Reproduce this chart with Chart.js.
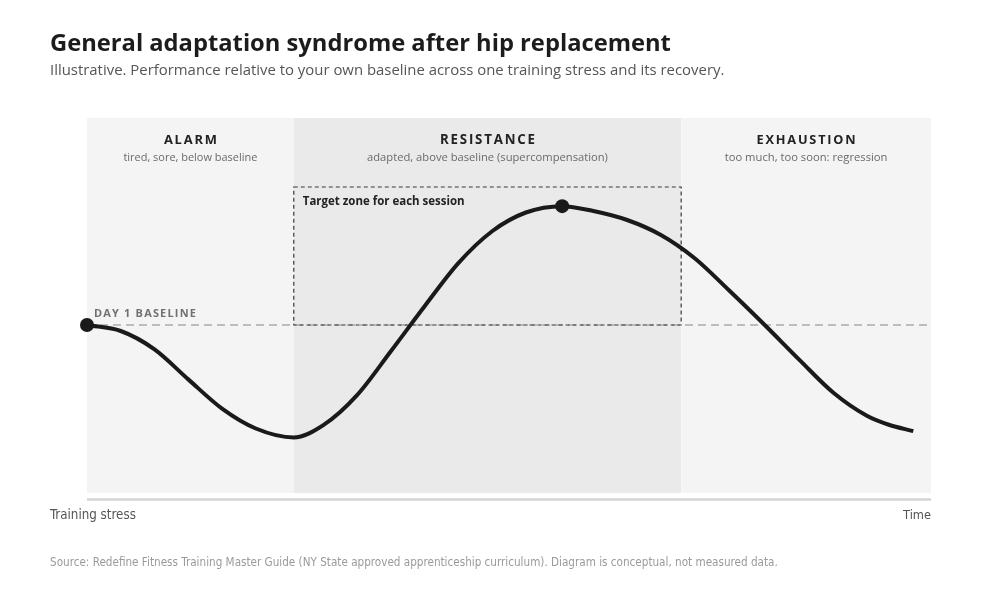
<!DOCTYPE html>
<html>
<head>
<meta charset="utf-8">
<script src="https://cdn.jsdelivr.net/npm/chart.js@4.4.1/dist/chart.umd.min.js"></script>
<style>
  html, body { margin: 0; padding: 0; background: #ffffff; }
  #wrap { width: 1000px; height: 600px; position: relative; }
</style>
</head>
<body>
<div id="wrap"><canvas id="c" width="1000" height="600"></canvas></div>
<script>
// ---------- DATA ----------
const titleText = 'General adaptation syndrome after hip replacement';
const subtitleText = 'Illustrative. Performance relative to your own baseline across one training stress and its recovery.';
const sourceText = 'Source: Redefine Fitness Training Master Guide (NY State approved apprenticeship curriculum). Diagram is conceptual, not measured data.';
const xStartLabel = 'Training stress';
const xEndLabel = 'Time';

const phaseNames = ['ALARM', 'RESISTANCE', 'EXHAUSTION'];
const phaseNotes = ['tired, sore, below baseline', 'adapted, above baseline (supercompensation)', 'too much, too soon: regression'];
const phaseBounds = [0, 24.5, 70.4, 100];

const baselineValue = 0;
const baselineLabel = 'DAY 1 BASELINE';
const targetZoneX = [24.5, 70.4];
const targetZoneY = [0, 36.8];
const targetZoneLabel = 'Target zone for each session';

// time (0-100) and performance relative to baseline
const curveX = [0, 4, 8, 12, 16, 20, 24.5, 28, 32, 36, 40, 44, 48, 52, 56.3, 60, 64, 68, 72, 76, 80.3, 84.5, 88.4, 92.4, 95, 97.9];
const curveY = [0, -1.6, -6.5, -14.5, -22.3, -27.6, -30, -26.7, -18.7, -7.0, 5.0, 16.5, 25.0, 30.0, 31.7, 30.4, 28.0, 24.0, 17.8, 9.4, 0, -9.5, -18.0, -24.2, -26.6, -28.3];
const markedPoints = [0, 14]; // day 1 start, supercompensation peak

// ---------- HELPERS ----------
const FAM = '"Open Sans", "Noto Sans", Lato, sans-serif';
const NARROW = '"Liberation Sans Narrow", "DejaVu Sans Condensed", "Open Sans", sans-serif';

function fitSize(ctx, text, weight, family, targetW, spacing) {
  ctx.font = weight + ' 100px ' + family;
  const w = ctx.measureText(text).width / 100;
  const extra = spacing ? spacing * (text.length - 1) : 0;
  return (targetW - extra) / w;
}
function drawSpaced(ctx, text, x, y, spacing, align) {
  let total = 0;
  const widths = [];
  for (const ch of text) { const w = ctx.measureText(ch).width; widths.push(w); total += w; }
  total += spacing * (text.length - 1);
  let cx = x;
  if (align === 'center') cx = x - total / 2;
  else if (align === 'right') cx = x - total;
  ctx.textAlign = 'left';
  let i = 0;
  for (const ch of text) { ctx.fillText(ch, cx, y); cx += widths[i++] + spacing; }
}
function text(ctx, str, x, y, o) {
  const fam = o.family || FAM;
  let size = o.size;
  if (o.width) size = fitSize(ctx, str, o.weight || 'normal', fam, o.width, o.spacing || 0);
  ctx.font = (o.weight || 'normal') + ' ' + size + 'px ' + fam;
  ctx.fillStyle = o.color;
  ctx.textBaseline = o.baseline || 'middle';
  if (o.spacing) drawSpaced(ctx, str, x, y, o.spacing, o.align || 'left');
  else { ctx.textAlign = o.align || 'left'; ctx.fillText(str, x, y); }
}

const decor = {
  id: 'decor',
  beforeDatasetsDraw(chart) {
    const { ctx, chartArea: a, scales: { x, y } } = chart;
    ctx.save();
    // phase bands
    const bandColors = ['#f4f4f4', '#eaeaea', '#f4f4f4'];
    for (let i = 0; i < phaseNames.length; i++) {
      const x0 = x.getPixelForValue(phaseBounds[i]);
      const x1 = x.getPixelForValue(phaseBounds[i + 1]);
      ctx.fillStyle = bandColors[i];
      ctx.fillRect(x0, a.top, x1 - x0, a.bottom - a.top);
    }
    // axis line
    ctx.strokeStyle = '#d4d4d4';
    ctx.lineWidth = 2.5;
    ctx.beginPath();
    ctx.moveTo(a.left, a.bottom + 6.5);
    ctx.lineTo(a.right, a.bottom + 6.5);
    ctx.stroke();

    // baseline dashed
    const by = y.getPixelForValue(baselineValue);
    ctx.strokeStyle = '#ababab';
    ctx.lineWidth = 1.5;
    ctx.setLineDash([8, 5]);
    ctx.beginPath();
    ctx.moveTo(a.left, by);
    ctx.lineTo(a.right, by);
    ctx.stroke();

    // target zone
    const tx0 = x.getPixelForValue(targetZoneX[0]);
    const tx1 = x.getPixelForValue(targetZoneX[1]);
    const ty0 = y.getPixelForValue(targetZoneY[1]);
    const ty1 = y.getPixelForValue(targetZoneY[0]);
    ctx.strokeStyle = '#3a3a3a';
    ctx.lineWidth = 1.2;
    ctx.setLineDash([4, 3]);
    ctx.strokeRect(tx0, ty0, tx1 - tx0, ty1 - ty0);
    ctx.setLineDash([]);

    // phase labels
    const headW = [53, 95, 99];
    const noteW = [134, 241, 163];
    for (let i = 0; i < phaseNames.length; i++) {
      const cx = (x.getPixelForValue(phaseBounds[i]) + x.getPixelForValue(phaseBounds[i + 1])) / 2;
      text(ctx, phaseNames[i], cx, a.top + 22, { weight: 'bold', color: '#222222', align: 'center', spacing: 1.8, width: headW[i] });
      text(ctx, phaseNotes[i], cx, a.top + 40, { color: '#6a6a6a', align: 'center', width: noteW[i] });
    }
    // baseline label
    text(ctx, baselineLabel, a.left + 7, by - 11, { weight: 'bold', color: '#707070', spacing: 1.2, width: 102 });
    // target zone label
    text(ctx, targetZoneLabel, tx0 + 9, ty0 + 15, { weight: 'bold', color: '#222222', width: 162 });
    ctx.restore();
  },
  afterDraw(chart) {
    const { ctx, chartArea: a } = chart;
    ctx.save();
    text(ctx, titleText, 50, 44, { weight: 'bold', color: '#1c1c1c', width: 621 });
    text(ctx, subtitleText, 50, 71, { color: '#555555', width: 675 });
    text(ctx, xStartLabel, 50, a.bottom + 23, { color: '#555555', family: NARROW, width: 86 });
    text(ctx, xEndLabel, a.right, a.bottom + 23, { color: '#555555', family: NARROW, align: 'right', width: 28 });
    text(ctx, sourceText, 50, 563, { color: '#9a9a9a', family: NARROW, width: 729 });
    ctx.restore();
  }
};

new Chart(document.getElementById('c'), {
  type: 'line',
  data: {
    datasets: [{
      data: curveX.map((v, i) => ({ x: v, y: curveY[i] })),
      borderColor: '#1a1a1a',
      borderWidth: 4,
      cubicInterpolationMode: 'monotone',
      pointRadius: ctx => markedPoints.includes(ctx.dataIndex) ? 7 : 0,
      pointBackgroundColor: '#1a1a1a',
      pointBorderWidth: 0,
      clip: false,
      fill: false
    }]
  },
  options: {
    responsive: false,
    animation: false,
    events: [],
    layout: { padding: { left: 87, right: 69, top: 118, bottom: 107 } },
    plugins: { legend: { display: false }, tooltip: { enabled: false }, title: { display: false } },
    scales: {
      x: { type: 'linear', min: 0, max: 100, display: false },
      y: { type: 'linear', min: -44.8, max: 55.2, display: false }
    }
  },
  plugins: [decor]
});
</script>
</body>
</html>
